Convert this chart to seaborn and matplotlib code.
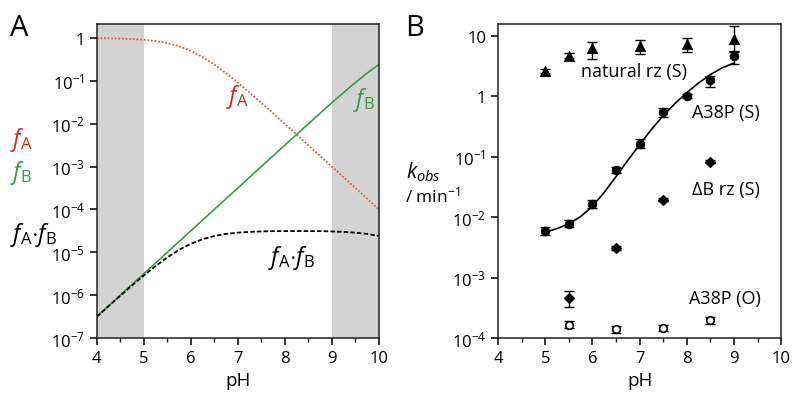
import numpy as np
import pandas as pd
import matplotlib
matplotlib.use('Agg')
import matplotlib.pyplot as plt
import seaborn as sns
from matplotlib.ticker import FixedLocator, MultipleLocator

# panel A: fractions vs pH
ph_a = [4.0, 4.25, 4.5, 4.75, 5.0, 5.25, 5.5, 5.75, 6.0, 6.25, 6.5, 6.75, 7.0,
        7.25, 7.5, 7.75, 8.0, 8.25, 8.5, 8.75, 9.0, 9.25, 9.5, 9.75, 10.0]
f_a = [0.990, 0.983, 0.969, 0.947, 0.909, 0.849, 0.760, 0.640, 0.500, 0.360,
       0.240, 0.151, 0.0909, 0.0532, 0.0307, 0.0175, 0.0099, 0.00559, 0.00315,
       0.00178, 0.000999, 0.000562, 0.000316, 0.000178, 0.0001]
f_b = [3.16e-7, 5.62e-7, 1.0e-6, 1.78e-6, 3.16e-6, 5.62e-6, 1.0e-5, 1.78e-5,
       3.16e-5, 5.62e-5, 1.0e-4, 1.78e-4, 3.16e-4, 5.62e-4, 1.0e-3, 1.78e-3,
       3.15e-3, 5.59e-3, 9.9e-3, 0.0175, 0.0307, 0.0532, 0.0909, 0.151, 0.240]

# panel B: kobs data
ph_nat = [5.0, 5.5, 6.0, 7.0, 8.0, 9.0]
k_nat = [2.6, 4.7, 6.2, 6.8, 7.3, 8.8]
k_nat_lo = [2.4, 4.3, 4.2, 5.0, 5.4, 5.5]
k_nat_hi = [2.8, 5.2, 8.0, 8.6, 9.3, 14.5]

ph_s = [5.0, 5.5, 6.0, 6.5, 7.0, 7.5, 8.0, 8.5, 9.0]
k_s = [5.8e-3, 7.8e-3, 1.65e-2, 6.0e-2, 0.165, 0.54, 1.0, 1.85, 4.6]
k_s_lo = [5.0e-3, 6.9e-3, 1.4e-2, 5.4e-2, 0.14, 0.46, 0.93, 1.4, 3.4]
k_s_hi = [6.8e-3, 8.9e-3, 1.95e-2, 6.7e-2, 0.20, 0.63, 1.08, 2.2, 5.6]

ph_fit = [5.0, 5.25, 5.5, 5.75, 6.0, 6.25, 6.5, 6.75, 7.0, 7.25, 7.5, 7.75,
          8.0, 8.25, 8.5, 8.75, 9.0]
k_fit = [5.62e-3, 6.46e-3, 7.76e-3, 1.02e-2, 1.51e-2, 2.57e-2, 4.68e-2, 8.71e-2,
         0.158, 0.282, 0.479, 0.759, 1.148, 1.66, 2.29, 2.95, 3.55]

ph_db = [5.5, 6.5, 7.5, 8.5]
k_db = [4.6e-4, 3.1e-3, 1.95e-2, 8.3e-2]
k_db_lo = [3.3e-4, 2.9e-3, 1.85e-2, 7.8e-2]
k_db_hi = [5.9e-4, 3.3e-3, 2.05e-2, 8.8e-2]

ph_o = [5.5, 6.5, 7.5, 8.5]
k_o = [1.67e-4, 1.4e-4, 1.47e-4, 1.95e-4]
k_o_lo = [1.45e-4, 1.2e-4, 1.3e-4, 1.7e-4]
k_o_hi = [1.9e-4, 1.6e-4, 1.65e-4, 2.2e-4]

sns.set_style('ticks')
plt.rcParams['font.family'] = ['Open Sans', 'DejaVu Sans']
plt.rcParams['mathtext.fontset'] = 'custom'
plt.rcParams['mathtext.rm'] = 'Open Sans'
plt.rcParams['mathtext.it'] = 'Open Sans:italic'
plt.rcParams['mathtext.bf'] = 'Open Sans:bold'
plt.rcParams['text.color'] = 'black'
plt.rcParams['axes.labelcolor'] = 'black'
plt.rcParams['xtick.color'] = 'black'
plt.rcParams['ytick.color'] = 'black'

RED = '#cc2a22'
ORANGE = '#d0623e'
GREEN = '#3a9a4a'
GRAY = '#d3d3d3'

fig = plt.figure(figsize=(8, 4.06), dpi=100)
axA = fig.add_axes([0.121, 0.165, 0.3525, 0.773])
axB = fig.add_axes([0.6225, 0.165, 0.354, 0.773])

# ---- panel A
dfa = pd.DataFrame({'pH': ph_a, 'fA': f_a, 'fB': f_b})
dfa['fAfB'] = dfa['fA'] * dfa['fB']

axA.axvspan(4, 5, color=GRAY, lw=0, zorder=0)
axA.axvspan(9, 10, color=GRAY, lw=0, zorder=0)
sns.lineplot(data=dfa, x='pH', y='fA', ax=axA, color=ORANGE, lw=1.3, linestyle=(0, (1, 1)))
sns.lineplot(data=dfa, x='pH', y='fB', ax=axA, color=GREEN, lw=1.2)
sns.lineplot(data=dfa, x='pH', y='fAfB', ax=axA, color='black', lw=1.3, linestyle=(0, (2.5, 1.2)))
axA.set_yscale('log')
axA.set_xlim(4, 10)
axA.set_ylim(1e-7, 2.1)
axA.yaxis.set_major_locator(FixedLocator([1e-7, 1e-6, 1e-5, 1e-4, 1e-3, 1e-2, 1e-1, 1]))
axA.set_yticklabels(['$10^{-%d}$' % n for n in range(7, 0, -1)] + ['1'])
axA.yaxis.set_minor_locator(FixedLocator([]))

axA.text(6.75, 10**-1.35, r'$f_\mathrm{A}$', color=RED, fontsize=17, va='center')
axA.text(9.45, 10**-1.42, r'$f_\mathrm{B}$', color=GREEN, fontsize=17, va='center')
axA.text(7.65, 10**-5.12, r'$f_\mathrm{A}{\cdot}f_\mathrm{B}$', color='black', fontsize=17, va='center')

fig.text(0.012, 0.655, r'$f_\mathrm{A}$', color=RED, fontsize=17, va='center')
fig.text(0.012, 0.575, r'$f_\mathrm{B}$', color=GREEN, fontsize=17, va='center')
fig.text(0.012, 0.42, r'$f_\mathrm{A}{\cdot}f_\mathrm{B}$', color='black', fontsize=17, va='center')
fig.text(0.012, 0.965, 'A', fontsize=21, va='top')

# ---- panel B
def err(vals, lo, hi):
    v = np.array(vals)
    return [v - np.array(lo), np.array(hi) - v]

dff = pd.DataFrame({'pH': ph_fit, 'k': k_fit})
sns.lineplot(data=dff, x='pH', y='k', ax=axB, color='black', lw=1.2)

axB.errorbar(ph_nat, k_nat, yerr=err(k_nat, k_nat_lo, k_nat_hi), fmt='none',
             ecolor='black', elinewidth=1, capsize=3.5)
sns.scatterplot(x=ph_nat, y=k_nat, ax=axB, marker='^', s=55, color='black', edgecolor='black')

axB.errorbar(ph_s, k_s, yerr=err(k_s, k_s_lo, k_s_hi), fmt='none',
             ecolor='black', elinewidth=1, capsize=3.5)
sns.scatterplot(x=ph_s, y=k_s, ax=axB, marker='o', s=40, color='black', edgecolor='black')

axB.errorbar(ph_db, k_db, yerr=err(k_db, k_db_lo, k_db_hi), fmt='none',
             ecolor='black', elinewidth=1, capsize=3.5)
sns.scatterplot(x=ph_db, y=k_db, ax=axB, marker='D', s=30, color='black', edgecolor='black')

axB.errorbar(ph_o, k_o, yerr=err(k_o, k_o_lo, k_o_hi), fmt='none',
             ecolor='black', elinewidth=1, capsize=3.5)
sns.scatterplot(x=ph_o, y=k_o, ax=axB, marker='o', s=30, color='white', edgecolor='black', linewidth=1.2, zorder=5)

axB.set_yscale('log')
axB.set_xlim(4, 10)
axB.set_ylim(1e-4, 15.6)
axB.yaxis.set_major_locator(FixedLocator([1e-4, 1e-3, 1e-2, 1e-1, 1, 10]))
axB.set_yticklabels(['$10^{-%d}$' % n for n in range(4, 0, -1)] + ['1', '10'])
axB.yaxis.set_minor_locator(FixedLocator([]))

axB.text(5.75, 2.6, 'natural rz (S)', fontsize=13, va='center')
axB.text(8.1, 0.55, 'A38P (S)', fontsize=13, va='center')
axB.text(8.1, 0.029, '\u0394B rz (S)', fontsize=13, va='center')
axB.text(8.05, 4.6e-4, 'A38P (O)', fontsize=13, va='center')

fig.text(0.508, 0.575, r'$k_{obs}$', fontsize=15, va='center')
fig.text(0.506, 0.515, r'/ min$^{\mathrm{-1}}$', fontsize=12.5, va='center')
fig.text(0.506, 0.965, 'B', fontsize=21, va='top')

for ax in (axA, axB):
    ax.xaxis.set_major_locator(MultipleLocator(1))
    ax.xaxis.set_minor_locator(MultipleLocator(0.5))
    ax.set_xlabel('pH', fontsize=13.5)
    ax.set_ylabel('')
    ax.tick_params(axis='both', which='major', labelsize=12, length=5, width=1.1, direction='out')
    ax.tick_params(axis='x', which='minor', length=3, width=1.0, direction='out')
    for s in ax.spines.values():
        s.set_visible(True)
        s.set_linewidth(1.1)
        s.set_color('#222222')
    ax.set_facecolor('white')

fig.savefig('out.png', dpi=100, facecolor='white')
